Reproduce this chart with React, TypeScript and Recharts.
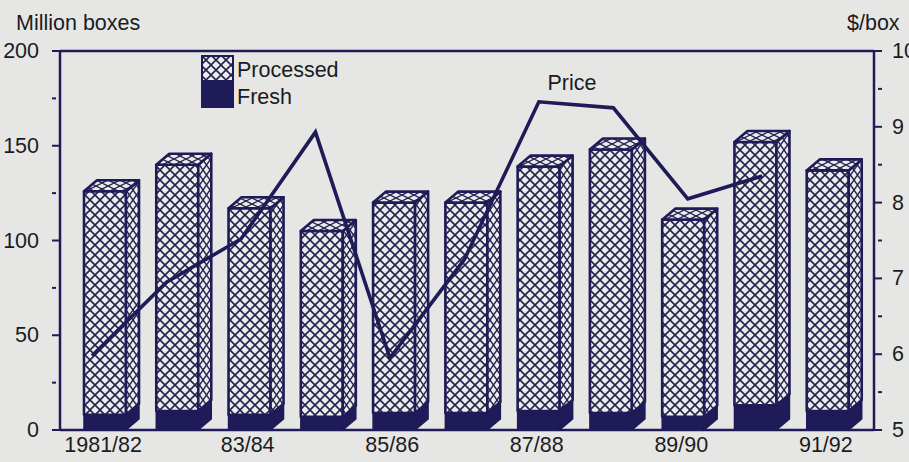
import {
  ComposedChart, Bar, Line, XAxis, YAxis, ReferenceLine, Legend,
} from "recharts";

const seasons = ["1981/82", "82/83", "83/84", "84/85", "85/86", "86/87", "87/88", "88/89", "89/90", "90/91", "91/92"];
const labelledSeasons = ["1981/82", "83/84", "85/86", "87/88", "89/90", "91/92"];
const fresh = [8, 10, 8, 7, 9, 9, 10, 9, 7, 13, 10];
const processed = [118, 130, 109, 98, 111, 111, 129, 139, 104, 139, 127];
// the price line sits on its own spacing in the original, slightly wider than the bars
const pricePosition = [0, 1, 2, 3, 4, 5, 6, 7, 8, 9, null];
const price = [5.98, 6.95, 7.52, 8.93, 5.95, 7.25, 9.33, 9.25, 8.05, 8.35, null];

const leftTicks = [0, 25, 50, 75, 100, 125, 150, 175, 200];
const rightTicks = [5, 5.5, 6, 6.5, 7, 7.5, 8, 8.5, 9, 9.5, 10];

const data = seasons.map((season, i) => ({
  season,
  fresh: fresh[i],
  processed: processed[i],
  pricePosition: pricePosition[i],
  price: price[i],
}));

const INK = "#1f1b58";
const TEXT = "#1b1b22";
const BG = "#e6e7e5";
const FONT = "'Liberation Sans', Arial, sans-serif";
const DX = 13;
const DY = 11;

function FreshBox({ x, y, width, height }: any) {
  const r = x + width;
  const b = y + height;
  return (
    <g>
      <rect x={x} y={y} width={width} height={height} fill={INK} stroke={INK} strokeWidth={1.5} />
      <polygon points={`${r},${y} ${r + DX},${y - DY} ${r + DX},${b - DY} ${r},${b}`} fill={INK} stroke={INK} strokeWidth={1.5} />
    </g>
  );
}

function ProcessedBox({ x, y, width, height }: any) {
  const r = x + width;
  const b = y + height;
  return (
    <g stroke={INK} strokeWidth={2.6} strokeLinejoin="round">
      <rect x={x} y={y} width={width} height={height} fill="url(#hatch)" />
      <polygon points={`${r},${y} ${r + DX},${y - DY} ${r + DX},${b - DY} ${r},${b}`} fill="url(#hatchSide)" />
      <polygon points={`${x},${y} ${x + DX},${y - DY} ${r + DX},${y - DY} ${r},${y}`} fill="url(#hatchTop)" />
    </g>
  );
}

function LeftTick({ x, y, payload }: any) {
  const major = payload.value % 50 === 0;
  return (
    <g>
      <line x1={x} x2={x + (major ? 9 : 4)} y1={y} y2={y} stroke={INK} strokeWidth={2} />
      {major && <text x={x - 13} y={y + 7} textAnchor="end" fontSize={21.5} fontFamily={FONT} fill={TEXT}>{payload.value}</text>}
    </g>
  );
}

function RightTick({ x, y, payload }: any) {
  const major = Number.isInteger(payload.value);
  return (
    <g>
      <line x1={x} x2={x - (major ? 9 : 4)} y1={y} y2={y} stroke={INK} strokeWidth={2} />
      {major && <text x={x + 10} y={y + 7} fontSize={21.5} fontFamily={FONT} fill={TEXT}>{payload.value}</text>}
    </g>
  );
}

function SeasonTick({ x, y, payload }: any) {
  if (!labelledSeasons.includes(payload.value)) return null;
  return <text x={x - 2} y={y + 14} textAnchor="middle" fontSize={21.5} fontFamily={FONT} fill={TEXT}>{payload.value}</text>;
}

function PriceLabel({ x, y, index }: any) {
  if (index !== 6) return null;
  return <text x={x + 33} y={y - 12} textAnchor="middle" fontSize={21.5} fontFamily={FONT} fill={TEXT}>Price</text>;
}

function KeyBox() {
  return (
    <svg width={146} height={54} style={{ display: "block", overflow: "visible" }}>
      <rect x={1} y={1} width={31} height={25} fill="url(#hatch)" stroke={INK} strokeWidth={2} />
      <rect x={1} y={26} width={31} height={26} fill={INK} stroke={INK} strokeWidth={2} />
      <text x={36} y={22} fontSize={21.5} fontFamily={FONT} fill={TEXT}>Processed</text>
      <text x={36} y={49} fontSize={21.5} fontFamily={FONT} fill={TEXT}>Fresh</text>
    </svg>
  );
}

export default function App() {
  return (
    <div style={{ position: "absolute", left: 0, top: 0, width: 909, height: 462, background: BG }}>
      <ComposedChart width={909} height={462} data={data} margin={{ top: 51, right: 0, bottom: 0, left: 0 }}>
        <defs>
          <pattern id="hatch" width={10} height={10} patternUnits="userSpaceOnUse">
            <rect width={10} height={10} fill="#ecedeb" />
            <path d="M0 0L10 10M10 0L0 10" stroke="#24224e" strokeWidth={1.6} />
          </pattern>
          <pattern id="hatchSide" width={7} height={10} patternUnits="userSpaceOnUse">
            <rect width={7} height={10} fill="#ecedeb" />
            <path d="M0 0L7 10M7 0L0 10" stroke="#24224e" strokeWidth={1.4} />
          </pattern>
          <pattern id="hatchTop" width={12} height={6} patternUnits="userSpaceOnUse">
            <rect width={12} height={6} fill="#ecedeb" />
            <path d="M0 0L12 6M12 0L0 6" stroke="#24224e" strokeWidth={1.3} />
          </pattern>
        </defs>
        <XAxis
          dataKey="season"
          type="category"
          interval={0}
          height={32}
          padding={{ left: 9, right: 10 }}
          tick={<SeasonTick />}
          tickLine={false}
          axisLine={{ stroke: INK, strokeWidth: 2.5 }}
        />
        <XAxis xAxisId="priceX" dataKey="pricePosition" type="number" domain={[-0.43, 10.5]} hide />
        <YAxis
          yAxisId="left"
          domain={[0, 200]}
          ticks={leftTicks}
          interval={0}
          width={60}
          tick={<LeftTick />}
          tickLine={false}
          axisLine={{ stroke: INK, strokeWidth: 2.5 }}
        />
        <YAxis
          yAxisId="right"
          orientation="right"
          domain={[5, 10]}
          ticks={rightTicks}
          interval={0}
          width={35}
          tick={<RightTick />}
          tickLine={false}
          axisLine={{ stroke: INK, strokeWidth: 2.5 }}
        />
        <ReferenceLine yAxisId="left" y={200} stroke={INK} strokeWidth={2.5} />
        <Bar yAxisId="left" dataKey="fresh" stackId="total" barSize={42} shape={<FreshBox />} isAnimationActive={false} />
        <Bar yAxisId="left" dataKey="processed" stackId="total" barSize={42} shape={<ProcessedBox />} isAnimationActive={false} />
        <Line
          xAxisId="priceX"
          yAxisId="right"
          dataKey="price"
          stroke={INK}
          strokeWidth={3.6}
          strokeLinejoin="miter"
          dot={false}
          label={<PriceLabel />}
          connectNulls={false}
          isAnimationActive={false}
        />
        <Legend
          content={<KeyBox />}
          layout="horizontal"
          align="center"
          verticalAlign="middle"
          wrapperStyle={{ position: "absolute", left: 201, top: 55, width: 146, height: 54 }}
        />
        <text x={16} y={30} fontSize={21.5} fontFamily={FONT} fill={TEXT}>Million boxes</text>
        <text x={847} y={30} fontSize={21.5} fontFamily={FONT} fill={TEXT}>$/box</text>
      </ComposedChart>
    </div>
  );
}
